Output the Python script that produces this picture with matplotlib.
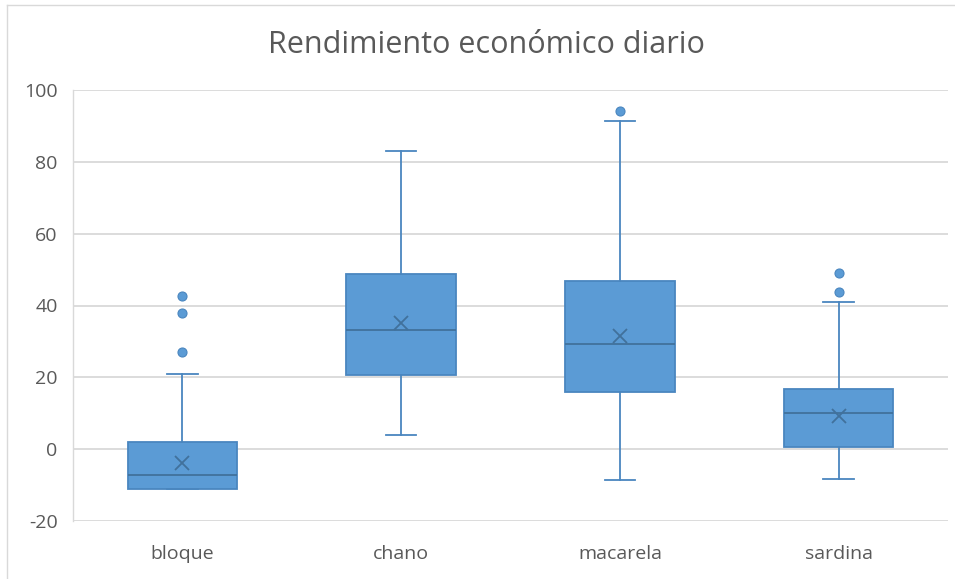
import matplotlib
matplotlib.use("Agg")
import matplotlib.pyplot as plt
from matplotlib.lines import Line2D

# Daily economic yield by species
categories = ["bloque", "chano", "macarela", "sardina"]
whisker_low = [-11.1, 3.9, -8.6, -8.3]
q1 = [-11.1, 20.6, 15.9, 0.5]
median = [-7.2, 33.1, 29.2, 10.0]
q3 = [1.9, 48.8, 46.7, 16.8]
whisker_high = [20.9, 83.1, 91.4, 41.1]
mean = [-3.8, 35.0, 31.5, 9.3]
outliers = [[42.6, 37.9, 27.1], [], [94.2], [49.1, 43.8]]

yticks = [-20, 0, 20, 40, 60, 80, 100]

fill = "#5B9BD5"
edge = "#4A86BF"
dark = "#41719C"
grid = "#D9D9D9"
text = "#595959"

plt.rcParams["font.family"] = ["Open Sans", "DejaVu Sans"]
plt.rcParams["axes.unicode_minus"] = False

fig = plt.figure(figsize=(9.55, 5.79), dpi=100)
ax = fig.add_axes([73 / 955, 1 - 521 / 579, 875 / 955, 431 / 579])

stats = []
for i, name in enumerate(categories):
    stats.append(dict(label=name, whislo=whisker_low[i], q1=q1[i], med=median[i],
                      q3=q3[i], whishi=whisker_high[i], mean=mean[i],
                      fliers=outliers[i]))

positions = list(range(len(categories)))
ax.bxp(stats, positions=positions, widths=0.5, patch_artist=True, showmeans=True,
       showfliers=True,
       boxprops=dict(facecolor=fill, edgecolor=edge, linewidth=1.3),
       medianprops=dict(color=dark, linewidth=1.3),
       whiskerprops=dict(color=edge, linewidth=1.3),
       capprops=dict(color=edge, linewidth=1.3),
       capwidths=0.14,
       meanprops=dict(marker="x", markersize=10, markeredgecolor=dark,
                      markeredgewidth=1.3, linestyle="none"),
       flierprops=dict(marker="o", markersize=6.5, markerfacecolor=fill,
                       markeredgecolor=edge, markeredgewidth=0.8, linestyle="none"),
       zorder=3)

ax.set_xlim(-0.5, len(categories) - 0.5)
ax.set_ylim(-20, 100)
ax.set_yticks(yticks)
ax.set_xticks(positions)
ax.set_xticklabels(categories)
ax.yaxis.grid(True, color=grid, linewidth=1.3, zorder=0)
ax.set_axisbelow(True)

for side in ["top", "right", "bottom"]:
    ax.spines[side].set_visible(False)
ax.spines["left"].set_color(grid)
ax.spines["left"].set_linewidth(1.0)

ax.tick_params(axis="both", length=0, labelsize=14, colors=text)
ax.tick_params(axis="y", pad=11)
ax.tick_params(axis="x", pad=17)

fig.suptitle("Rendimiento económico diario", x=0.509, y=1 - 45 / 579, va="center",
             fontsize=22, color=text)

# thin chart-area border along left and top
fig.add_artist(Line2D([7 / 955, 7 / 955], [0, 1 - 5 / 579], transform=fig.transFigure,
                      color=grid, linewidth=1.0))
fig.add_artist(Line2D([7 / 955, 1], [1 - 5 / 579, 1 - 5 / 579], transform=fig.transFigure,
                      color=grid, linewidth=1.0))

fig.savefig("out.png", dpi=100, facecolor="white")
